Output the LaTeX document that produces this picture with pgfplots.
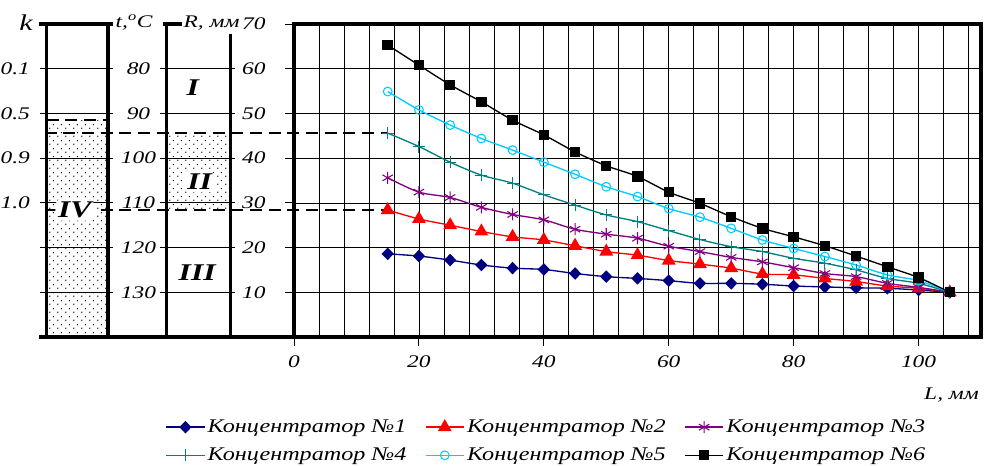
\documentclass[border=0pt]{standalone}
\usepackage{fontspec}
\setmainfont{Liberation Serif}[FakeStretch=1.32]
\newfontfamily\legfont{Liberation Serif}[FakeStretch=1.25]
\usepackage{pgfplots}
\pgfplotsset{compat=1.18}
\usepackage{pgfplotstable}
\usetikzlibrary{patterns}

% dotted stipple like the original
\pgfdeclarepatternformonly{stip}{\pgfpointorigin}{\pgfqpoint{6pt}{6pt}}{\pgfqpoint{6pt}{6pt}}{%
  \pgfpathcircle{\pgfqpoint{1.5pt}{1.5pt}}{0.6pt}%
  \pgfpathcircle{\pgfqpoint{4.5pt}{4.5pt}}{0.6pt}%
  \pgfusepath{fill}}

\definecolor{c1}{RGB}{0,0,128}
\definecolor{c2}{RGB}{255,0,0}
\definecolor{c3}{RGB}{128,0,128}
\definecolor{c4}{RGB}{0,128,128}
\definecolor{c5}{RGB}{0,204,255}
\definecolor{c6}{RGB}{0,0,0}

\pgfplotstableread{
L   c1   c2   c3   c4   c5   c6
15  18.6 28.4 35.6 45.6 54.9 65.3
20  18.1 26.4 32.4 42.6 50.8 60.8
25  17.2 25.0 31.2 39.1 47.4 56.4
30  16.1 23.6 29.0 36.2 44.4 52.6
35  15.4 22.4 27.4 34.4 41.8 48.5
40  15.1 21.7 26.2 31.8 39.1 45.2
45  14.2 20.4 24.1 29.5 36.4 41.4
50  13.5 19.1 23.0 27.3 33.6 38.3
55  13.1 18.3 22.1 25.8 31.4 35.9
60  12.6 17.1 20.3 23.8 28.7 32.4
65  12.0 16.3 19.1 21.8 26.8 29.9
70  12.0 15.4 17.8 20.2 24.3 26.9
75  11.8 14.1 16.8 19.1 21.7 24.3
80  11.4 13.9 15.5 17.6 19.8 22.4
85  11.2 13.1 14.2 16.5 18.0 20.4
90  11.0 12.4 13.5 15.0 16.1 18.1
95  10.9 11.4 12.0 13.1 13.9 15.7
100 10.5 10.9 11.1 12.0 12.6 13.3
105 10.0 10.0 10.0 10.0 10.0 10.0
}\conc

\begin{document}
\fontsize{13.3}{15}\selectfont\itshape
\begin{tikzpicture}[x=0.75pt,y=0.75pt]
\begin{axis}[
  at={(220.5pt,96.75pt)}, anchor=south west,
  scale only axis, width=515.25pt, height=234.75pt,
  xmin=0, xmax=110, ymin=0, ymax=70,
  xtick={0,20,...,100}, minor xtick={4,8,...,108},
  ytick={10,20,...,70},
  grid=both,
  major grid style={black, line width=0.5pt},
  minor grid style={black, line width=0.5pt},
  axis line style={line width=2.5pt},
  tick align=outside, tick pos=left,
  major tick length=6.75pt, minor tick length=0pt,
  tick style={black, line width=0.7pt},
  /pgf/number format/assume math mode=true,
  xticklabel style={yshift=-2.5pt},
  yticklabel style={xshift=-10pt},
  xlabel={L, мм},
  xlabel style={at={(rel axis cs:1,0)}, anchor=east, yshift=-43.5pt, xshift=3pt},
  clip=false,
  legend columns=3,
  legend style={draw=none, fill=none, at={(0.368,-0.333)}, anchor=center,
    font=\legfont\itshape\fontsize{14.5}{16}\selectfont,
    column sep=0pt, row sep=5.5pt,
    /tikz/every even column/.append style={column sep=12pt}},
  legend image code/.code={\draw[mark repeat=2,mark phase=2,#1]
    plot coordinates {(0cm,0cm) (0.5cm,0cm) (1cm,0cm)};},
  every axis plot/.append style={line width=1pt, smooth},
]
% left panels: stipple
\fill[pattern=stip] (axis cs:-39.6,0) rectangle (axis cs:-29.8,48.5);
\fill[pattern=stip] (axis cs:-20.38,28.4) rectangle (axis cs:-10.14,45.6);
% thin level lines
\pgfplotsinvokeforeach{10,20,30,40,50,60}{
  \draw[line width=0.6pt] (axis cs:-40.67,#1) -- (axis cs:-28.98,#1);
  \draw[line width=0.6pt] (axis cs:-21.46,#1) -- (axis cs:-9.45,#1);
}
% frames
\draw[line width=2.5pt] (axis cs:-40.83,70) -- (axis cs:-28.98,70);
\draw[line width=2.5pt] (axis cs:-39.6,70) -- (axis cs:-39.6,0);
\draw[line width=2.5pt] (axis cs:-29.78,70) -- (axis cs:-29.78,0);
\draw[line width=2.5pt] (axis cs:-20.98,70) -- (axis cs:-17.93,70);
\draw[line width=2.5pt] (axis cs:-20.38,70) -- (axis cs:-20.38,0);
\draw[line width=2.5pt] (axis cs:-10.14,67.8) -- (axis cs:-10.14,0);
\draw[line width=2.5pt] (axis cs:-40.83,0) -- (axis cs:0,0);
% dashed levels
\addplot[black, line width=1.2pt, dash pattern=on 9pt off 5pt, forget plot, no markers, sharp plot]
  coordinates {(-39.6,48.5) (-29.8,48.5)};
\addplot[black, line width=1.2pt, dash pattern=on 9pt off 5pt, forget plot, no markers, sharp plot]
  coordinates {(-39.9,45.6) (15,45.6)};
\addplot[black, line width=1.2pt, dash pattern=on 9pt off 5pt, forget plot, no markers, sharp plot]
  coordinates {(-39.9,28.4) (15,28.4)};

% data
\addplot[c1, mark=diamond*, mark size=4pt, mark options={xscale=1.3}] table[x=L, y=c1] {\conc};
\addlegendentry{Концентратор №1}
\addplot[c2, mark=triangle*, mark size=5pt] table[x=L, y=c2] {\conc};
\addlegendentry{Концентратор №2}
\addplot[c3, mark=asterisk, mark size=4.5pt, mark options={line width=0.8pt}] table[x=L, y=c3] {\conc};
\addlegendentry{Концентратор №3}
\addplot[c4, mark=+, mark size=4.5pt, mark options={line width=0.8pt}] table[x=L, y=c4] {\conc};
\addlegendentry{Концентратор №4}
\addplot[c5, mark=o, mark size=3.3pt, mark options={line width=0.8pt}] table[x=L, y=c5] {\conc};
\addlegendentry{Концентратор №5}
\addplot[c6, mark=square*, mark size=3.4pt] table[x=L, y=c6] {\conc};
\addlegendentry{Концентратор №6}

% panel labels
\node[anchor=east] at (axis cs:-41.3,60) {0.1};
\node[anchor=east] at (axis cs:-41.3,50) {0.5};
\node[anchor=east] at (axis cs:-41.3,40) {0.9};
\node[anchor=east] at (axis cs:-41.3,30) {1.0};
\node at (axis cs:-24.9,60) {80};
\node at (axis cs:-24.9,50) {90};
\node at (axis cs:-24.9,40) {100};
\node at (axis cs:-24.9,30) {110};
\node at (axis cs:-24.9,20) {120};
\node at (axis cs:-24.9,10) {130};
\node[font=\fontsize{17}{19}\selectfont\itshape] at (axis cs:-42.9,70.3) {k};
\node at (axis cs:-25.6,70.3) {t,\textsuperscript{o}C};
\node at (axis cs:-13.2,70.3) {R, мм};
\node[font=\fontsize{18}{20}\selectfont\bfseries\itshape] at (axis cs:-16.2,55.7) {I};
\node[font=\fontsize{18}{20}\selectfont\bfseries\itshape, fill=white, inner sep=2pt, rounded corners=4pt] at (axis cs:-15.1,34.7) {II};
\node[font=\fontsize{18}{20}\selectfont\bfseries\itshape] at (axis cs:-15.5,14.5) {III};
\node[font=\fontsize{18}{20}\selectfont\bfseries\itshape, fill=white, inner sep=2pt, rounded corners=4pt] at (axis cs:-35.1,28.4) {IV};
\end{axis}
\pgfresetboundingbox
\path[use as bounding box] (0,0) rectangle (987,466);
\end{tikzpicture}
\end{document}
